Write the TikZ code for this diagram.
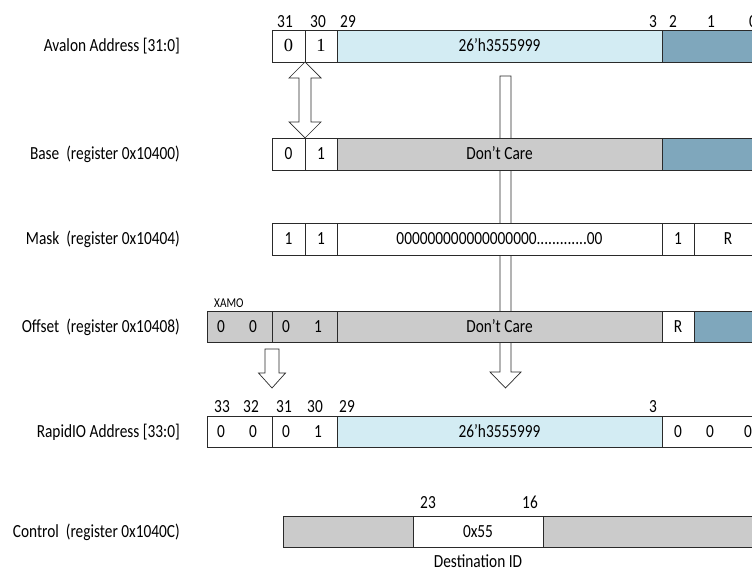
\documentclass[tikz,border=0pt]{standalone}
\usepackage{fontspec}
\setmainfont{Carlito}[FakeStretch=0.83]
\newfontfamily\serifdig{Liberation Serif}
\usetikzlibrary{calc}
\definecolor{cyanfill}{HTML}{D3ECF3}
\definecolor{darkfill}{HTML}{7FA7BC}
\definecolor{grayfill}{HTML}{CBCBCB}
\definecolor{edge}{HTML}{2A2A2A}
\newcommand\mainsz{\fontsize{18.5}{22}\selectfont}
\newcommand\mkcell[7]{\node[cellst,fill=#6,minimum width=#3-#2,minimum height=#5-#4,anchor=north west] (#1) at (#2,#4) {#7};}
\tikzset{
  cellst/.style={draw=edge,line width=0.9pt,inner sep=0pt,outer sep=0pt,font=\mainsz,text height=11.9pt,text depth=0pt},
  celltext/.style={inner sep=0pt,font=\mainsz,text height=11.9pt,text depth=0pt},
  bitlab/.style={inner sep=0pt,font=\mainsz,anchor=base},
  rowlab/.style={inner sep=0pt,font=\mainsz,anchor=east,text height=11.9pt,text depth=0pt},
  blockarrow/.style={draw=edge,line width=0.7pt,fill=white,line join=miter}
}
\begin{document}
\begin{tikzpicture}[x=1pt,y=-1pt]
\useasboundingbox (0,0) rectangle (752,569);
\fill[white] (0,0) rectangle (752,569);
% long arrow behind the registers
\coordinate (bigtop) at (505.5,76);
\coordinate (bigtip) at (505.5,388);
\draw[blockarrow] ($(bigtop)+(-5.5,0)$) -- ($(bigtip)+(-5.5,-16)$) -- ($(bigtip)+(-15.5,-16)$) -- (bigtip)
  -- ($(bigtip)+(15.5,-16)$) -- ($(bigtip)+(5.5,-16)$) -- ($(bigtop)+(5.5,0)$) -- cycle;
% row labels
\node[rowlab] (l1) at (180,46) {Avalon Address [31:0]};
\node[rowlab] (l2) at (180,154) {Base\ \ (register 0x10400)};
\node[rowlab] (l3) at (180,239) {Mask\ \ (register 0x10404)};
\node[rowlab] (l4) at (180,326.5) {Offset\ \ (register 0x10408)};
\node[rowlab] (l5) at (180,431.5) {RapidIO Address [33:0]};
\node[rowlab] (l6) at (180,531.5) {Control\ \ (register 0x1040C)};
% row 1 : Avalon address
\mkcell{r1a}{272}{305}{30}{62}{white}{\serifdig 0}
\mkcell{r1b}{305}{337}{30}{62}{white}{\serifdig 1}
\mkcell{r1c}{337}{662}{30}{62}{cyanfill}{26’h3555999}
\mkcell{r1d}{662}{762}{30}{62}{darkfill}{}
\node[bitlab] (b131) at (285,28) {31};
\node[bitlab] (b130) at (318,28) {30};
\node[bitlab] (b129) at (348,28) {29};
\node[bitlab] (b13) at (653,28) {3};
\node[bitlab] (b12) at (673,28) {2};
\node[bitlab] (b11) at (711,28) {1};
\node[bitlab] (b10) at (753,28) {0};
% row 2 : base
\mkcell{r2a}{272}{305}{138}{170}{white}{0}
\mkcell{r2b}{305}{337}{138}{170}{white}{1}
\mkcell{r2c}{337}{662}{138}{170}{grayfill}{Don’t Care}
\mkcell{r2d}{662}{762}{138}{170}{darkfill}{}
% row 3 : mask
\mkcell{r3a}{272}{305}{223}{255}{white}{1}
\mkcell{r3b}{305}{337}{223}{255}{white}{1}
\mkcell{r3c}{337}{662}{223}{255}{white}{000000000000000000.............00}
\mkcell{r3d}{662}{694}{223}{255}{white}{1}
\mkcell{r3e}{694}{762}{223}{255}{white}{R}
% row 4 : offset
\mkcell{r4a}{207}{272}{311}{342}{grayfill}{}
\mkcell{r4b}{272}{337}{311}{342}{grayfill}{}
\mkcell{r4c}{337}{662}{311}{342}{grayfill}{Don’t Care}
\mkcell{r4d}{662}{694}{311}{342}{white}{R}
\mkcell{r4e}{694}{762}{311}{342}{darkfill}{}
\node[celltext] (o33) at (221,326.5) {0};
\node[celltext] (o32) at (253,326.5) {0};
\node[celltext] (o31) at (286,326.5) {0};
\node[celltext] (o30) at (318,326.5) {1};
\node[inner sep=0pt,font=\fontsize{13.5}{15}\selectfont,anchor=base west] (xamo) at (214,307) {XAMO};
% row 5 : RapidIO address
\mkcell{r5a}{207}{272}{416}{447}{white}{}
\mkcell{r5b}{272}{337}{416}{447}{white}{}
\mkcell{r5c}{337}{662}{416}{447}{cyanfill}{26’h3555999}
\mkcell{r5d}{662}{762}{416}{447}{white}{}
\node[celltext] (p33) at (221,431.5) {0};
\node[celltext] (p32) at (253,431.5) {0};
\node[celltext] (p31) at (286,431.5) {0};
\node[celltext] (p30) at (318,431.5) {1};
\node[celltext] (p2) at (678,431.5) {0};
\node[celltext] (p1) at (710,431.5) {0};
\node[celltext] (p0) at (748,431.5) {0};
\node[bitlab] (b533) at (222,412) {33};
\node[bitlab] (b532) at (251,412) {32};
\node[bitlab] (b531) at (284,412) {31};
\node[bitlab] (b530) at (315,412) {30};
\node[bitlab] (b529) at (347,412) {29};
\node[bitlab] (b53) at (653,412) {3};
% row 6 : control
\mkcell{r6a}{283}{413}{516}{547}{grayfill}{}
\mkcell{r6b}{413}{543}{516}{547}{white}{0x55}
\mkcell{r6c}{543}{762}{516}{547}{grayfill}{}
\node[bitlab] (b623) at (428,508) {23};
\node[bitlab] (b616) at (530,508) {16};
\node[bitlab] (dest) at (r6b.south |- 0,567) {Destination ID};
% double arrow between Avalon and Base
\coordinate (dt) at (r1b.south west);
\coordinate (db) at (r2b.north west);
\draw[blockarrow] (dt) -- ($(dt)+(16,16)$) -- ($(dt)+(6,16)$) -- ($(db)+(6,-16)$) -- ($(db)+(16,-16)$) -- (db)
  -- ($(db)+(-16,-16)$) -- ($(db)+(-6,-16)$) -- ($(dt)+(-6,16)$) -- ($(dt)+(-16,16)$) -- cycle;
% small arrow from XAMO bits
\coordinate (stop) at ($(r4b.south west)+(0,7)$);
\coordinate (stip) at (272,388);
\draw[blockarrow] ($(stop)+(-7,0)$) -- ($(stip)+(-7,-15)$) -- ($(stip)+(-13.5,-15)$) -- (stip)
  -- ($(stip)+(13.5,-15)$) -- ($(stip)+(7,-15)$) -- ($(stop)+(7,0)$) -- cycle;
\end{tikzpicture}
\end{document}
